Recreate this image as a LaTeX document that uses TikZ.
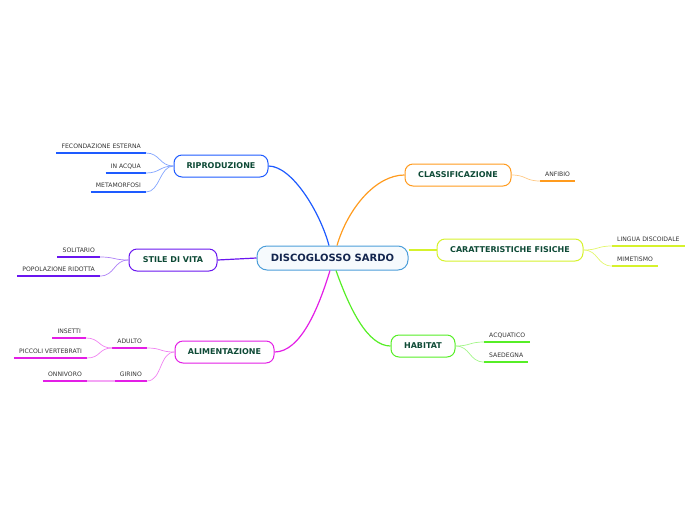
\documentclass[tikz,border=0pt]{standalone}
\usepackage{fontspec}
\setmainfont{DejaVu Sans}
\usetikzlibrary{calc}
\definecolor{cblue}{HTML}{4C9ED9}
\definecolor{navy}{HTML}{14264F}
\definecolor{ntext}{HTML}{0E4A36}
\definecolor{ltext}{HTML}{333333}
\definecolor{cB}{HTML}{1E5BFF}
\definecolor{cO}{HTML}{FF9B1E}
\definecolor{cY}{HTML}{D6F22C}
\definecolor{cP}{HTML}{6A16F0}
\definecolor{cM}{HTML}{E31EE6}
\definecolor{cG}{HTML}{56EE26}
\begin{document}
\begin{tikzpicture}[x=1pt,y=-1pt,
  mainbox/.style={draw, line width=1pt, rounded corners=8pt, minimum height=22pt, fill=white,
    font=\fontsize{8}{9}\selectfont\bfseries, text=ntext, inner sep=0pt},
  leaf/.style={font=\fontsize{6.1}{7}\selectfont, text=ltext, text height=4.8pt, text depth=1.5pt,
    inner ysep=2.5pt, inner xsep=5pt},
  uline/.style={line width=1.6pt},
  link/.style={line width=1.2pt},
  sub/.style={line width=0.7pt}]
\useasboundingbox (0,0) rectangle (696,520);

% central
\node[draw=cblue, fill=cblue!5, line width=1pt, rounded corners=10pt, minimum width=151pt,
  minimum height=24pt, font=\fontsize{10}{11}\selectfont\bfseries, text=navy] (c) at (332.5,258) {DISCOGLOSSO SARDO};

% main topics
\node[mainbox, draw=cB, minimum width=94pt] (rip) at (221,166) {RIPRODUZIONE};
\node[mainbox, draw=cO, minimum width=106pt] (cla) at (458,175) {CLASSIFICAZIONE};
\node[mainbox, draw=cY, minimum width=146pt] (car) at (510,250) {CARATTERISTICHE FISICHE};
\node[mainbox, draw=cP, minimum width=88pt] (sti) at (173,260) {STILE DI VITA};
\node[mainbox, draw=cM, minimum width=99pt] (ali) at (224.5,352) {ALIMENTAZIONE};
\node[mainbox, draw=cG, minimum width=64pt] (hab) at (423,346) {HABITAT};

% leaves
\node[leaf, anchor=south east] (fec) at (146,153) {FECONDAZIONE ESTERNA};
\node[leaf, anchor=south east] (inq) at (146,173) {IN ACQUA};
\node[leaf, anchor=south east] (met) at (146,192) {METAMORFOSI};
\node[leaf, anchor=south west] (anf) at (540,181) {ANFIBIO};
\node[leaf, anchor=south west] (lin) at (612,246) {LINGUA DISCOIDALE};
\node[leaf, anchor=south west] (mim) at (612,266) {MIMETISMO};
\node[leaf, anchor=south east] (sol) at (100,257) {SOLITARIO};
\node[leaf, anchor=south east] (pop) at (100,276) {POPOLAZIONE RIDOTTA};
\node[leaf, anchor=south east] (adu) at (147,348) {ADULTO};
\node[leaf, anchor=south east] (ins) at (86,338) {INSETTI};
\node[leaf, anchor=south east] (pic) at (87,358) {PICCOLI VERTEBRATI};
\node[leaf, anchor=south east] (gir) at (147,381) {GIRINO};
\node[leaf, anchor=south east] (onn) at (87,381) {ONNIVORO};
\node[leaf, anchor=south west] (acq) at (484,342) {ACQUATICO};
\node[leaf, anchor=south west] (sae) at (484,362) {SAEDEGNA};

% underlines
\foreach \n/\col in {fec/cB,inq/cB,met/cB,anf/cO,lin/cY,mim/cY,sol/cP,pop/cP,adu/cM,ins/cM,pic/cM,gir/cM,onn/cM,acq/cG,sae/cG}
  \draw[uline, \col] (\n.south west) -- (\n.south east);

% main links
\draw[link, cB] ($(c.north)+(-3.5,0)$) .. controls (320,212) and (292,166) .. (rip.east);
\draw[link, cO] ($(c.north)+(4.5,0)$) .. controls (348,208) and (376,175) .. (cla.west);
\draw[link, cY] ($(c.east)+(0,-8)$) .. controls (420,250) and (425,250) .. (car.west);
\draw[link, cP] (c.west) -- (sti.east);
\draw[link, cM] ($(c.south)+(-2.5,0)$) .. controls (318,310) and (300,352) .. (ali.east);
\draw[link, cG] ($(c.south)+(3.5,0)$) .. controls (350,310) and (368,346) .. (hab.west);

% sub links
\foreach \n in {fec,inq,met}
  \draw[sub, cB!55] (rip.west) .. controls +(-14,0) and +(14,0) .. (\n.south east);
\draw[sub, cO!55] (cla.east) .. controls +(15,0) and +(-15,0) .. (anf.south west);
\foreach \n in {lin,mim}
  \draw[sub, cY!70] (car.east) .. controls +(15,0) and +(-15,0) .. (\n.south west);
\foreach \n in {sol,pop}
  \draw[sub, cP!55] (sti.west) .. controls +(-15,0) and +(15,0) .. (\n.south east);
\foreach \n in {adu,gir}
  \draw[sub, cM!55] (ali.west) .. controls +(-15,0) and +(15,0) .. (\n.south east);
\foreach \n in {ins,pic}
  \draw[sub, cM!55] (adu.south west) .. controls +(-14,0) and +(14,0) .. (\n.south east);
\draw[sub, cM!40, line width=1.2pt] (gir.south west) -- (onn.south east);
\foreach \n in {acq,sae}
  \draw[sub, cG!55] (hab.east) .. controls +(15,0) and +(-15,0) .. (\n.south west);
\end{tikzpicture}
\end{document}
